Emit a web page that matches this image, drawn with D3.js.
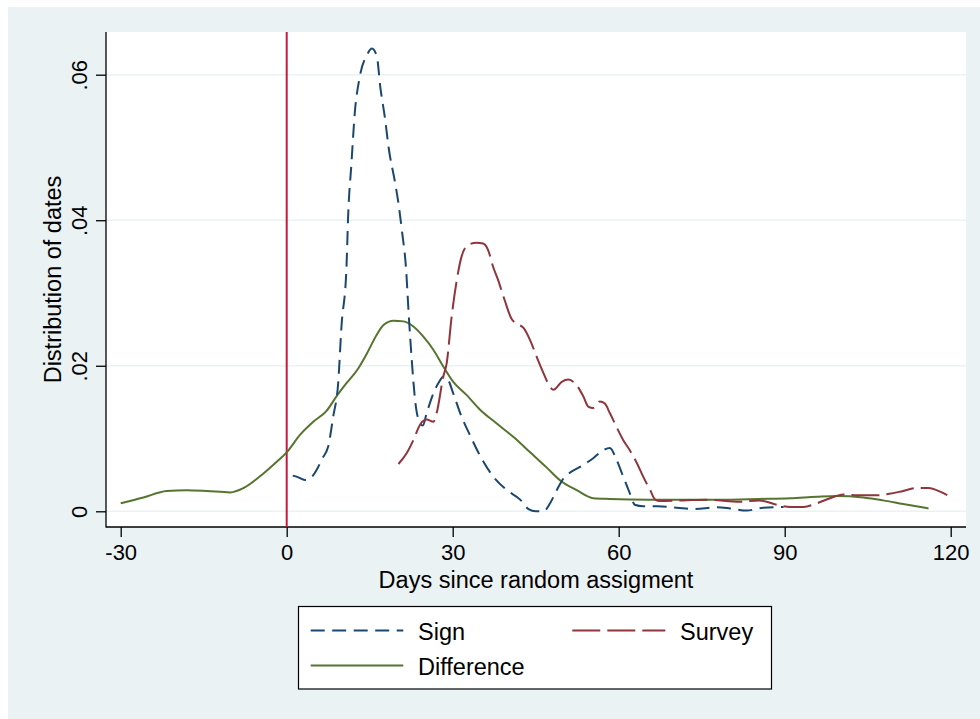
<!DOCTYPE html>
<html>
<head>
<meta charset="utf-8">
<script src="https://cdn.jsdelivr.net/npm/d3@7"></script>
<style>
  html, body { margin: 0; padding: 0; background: #ffffff; }
  svg { display: block; font-family: "Liberation Sans", Arial, Helvetica, sans-serif; }
</style>
</head>
<body>
<svg id="chart" width="980" height="719"></svg>
<script>
// ---- data ----
const signDays = [1.1, 2.0, 3.3, 4.5, 5.5, 6.3, 7.5, 8.4, 9.3, 9.9, 10.8, 11.1, 11.7, 12.3, 13.2, 14.5, 15.4, 16.3, 16.9, 17.8, 18.4, 19.6, 20.2, 20.8, 21.6, 22.0, 22.6, 23.2, 24.1, 24.6, 25.3, 26.5, 27.4, 28.3, 29.2, 30.1, 31.6, 33.1, 34.9, 37.3, 39.8, 42.2, 43.7, 45.0, 46.4, 47.6, 48.8, 50.0, 51.0, 53.0, 55.4, 57.2, 58.4, 59.6, 60.8, 62.0, 62.9, 64.4, 67.0, 70.5, 73.5, 77.7, 80.1, 83.1, 86.1, 89.8];
const signValues = [0.0049, 0.0047, 0.0043, 0.0047, 0.0058, 0.0071, 0.0089, 0.0130, 0.0176, 0.0254, 0.0335, 0.0405, 0.0478, 0.0547, 0.0597, 0.0627, 0.0636, 0.0625, 0.0584, 0.0538, 0.0501, 0.0451, 0.0423, 0.0387, 0.0330, 0.0277, 0.0208, 0.0153, 0.0121, 0.0118, 0.0135, 0.0162, 0.0176, 0.0185, 0.0180, 0.0162, 0.0130, 0.0105, 0.0077, 0.0048, 0.0029, 0.0016, 0.0003, 0.0000, 0.0000, 0.0011, 0.0029, 0.0045, 0.0052, 0.0061, 0.0073, 0.0084, 0.0087, 0.0071, 0.0048, 0.0025, 0.0009, 0.0007, 0.0007, 0.0005, 0.0003, 0.00055, 0.0004, 0.0001, 0.0005, 0.0006];

const surveyDays = [20.2, 21.7, 22.9, 24.1, 25.3, 26.5, 27.1, 28.3, 28.9, 29.8, 30.7, 31.6, 32.8, 34.3, 35.5, 36.4, 37.3, 38.2, 39.4, 40.6, 41.5, 42.8, 44.0, 45.2, 46.4, 47.6, 48.2, 49.7, 50.9, 52.1, 53.6, 54.5, 55.4, 56.6, 57.5, 58.4, 59.6, 60.8, 62.0, 63.3, 64.4, 65.7, 66.6, 67.5, 71.7, 76.0, 81.9, 85.4, 88.6, 91.0, 93.4, 95.8, 98.2, 100.6, 103.0, 106.6, 108.9, 111.4, 113.8, 116.0, 118.1, 119.9];
const surveyValues = [0.0065, 0.0080, 0.0098, 0.0119, 0.0126, 0.0123, 0.0135, 0.0185, 0.0203, 0.0267, 0.0316, 0.0350, 0.0366, 0.0369, 0.0368, 0.0359, 0.0336, 0.0318, 0.0290, 0.0265, 0.0258, 0.0252, 0.0235, 0.0212, 0.0190, 0.0171, 0.0167, 0.0178, 0.0181, 0.0176, 0.0158, 0.0144, 0.0142, 0.0151, 0.0148, 0.0135, 0.0116, 0.0098, 0.0084, 0.0066, 0.0048, 0.0029, 0.0016, 0.0014, 0.0015, 0.0016, 0.0013, 0.0015, 0.0009, 0.0006, 0.0006, 0.0011, 0.0018, 0.0023, 0.0022, 0.0022, 0.0024, 0.0028, 0.0032, 0.0032, 0.0027, 0.0020];

const diffDays = [-30, -25.9, -21.7, -18.1, -14.5, -10.2, -7.8, -4.2, -1.8, 0, 2.4, 4.8, 7.2, 9.0, 10.8, 12.9, 14.5, 16.3, 17.5, 19.3, 21.1, 22.9, 24.7, 26.5, 28.3, 30.1, 32.5, 34.9, 37.9, 41.0, 44.0, 47.0, 49.5, 52.4, 55.4, 58.4, 65.7, 77.7, 85.4, 91.0, 95.8, 99.5, 104.2, 107.8, 111.4, 116.0];
const diffValues = [0.0011, 0.0019, 0.0028, 0.0029, 0.0028, 0.0026, 0.0032, 0.0052, 0.0068, 0.0081, 0.0105, 0.0123, 0.0138, 0.0158, 0.0176, 0.0196, 0.0217, 0.0243, 0.0256, 0.0262, 0.0261, 0.0254, 0.0240, 0.0222, 0.0199, 0.0178, 0.0160, 0.0140, 0.0121, 0.0102, 0.0081, 0.0060, 0.0042, 0.0029, 0.0018, 0.0017, 0.0016, 0.0016, 0.0017, 0.0018, 0.0020, 0.0021, 0.0019, 0.0015, 0.0010, 0.0004];

const xTicks = [-30, 0, 30, 60, 90, 120];
const xTickLabels = ["-30", "0", "30", "60", "90", "120"];
const yTicks = [0, 0.02, 0.04, 0.06];
const yTickLabels = ["0", ".02", ".04", ".06"];
const seriesNames = ["Sign", "Survey", "Difference"];
const xTitle = "Days since random assigment";
const yTitle = "Distribution of dates";

// ---- layout ----
const svg = d3.select("#chart");
const plot = { left: 106, right: 966, top: 32, bottom: 527 };
const bg = "#eaf2f3";
const colors = { Sign: "#1a476f", Survey: "#90353b", Difference: "#55752f" };
const dashes = { Sign: "14,7.5", Survey: "28,7", Difference: null };
const font = "'Liberation Sans', Arial, Helvetica, sans-serif";

svg.append("rect").attr("x", 8).attr("y", 7).attr("width", 972).attr("height", 712).attr("fill", bg);
svg.append("rect").attr("x", plot.left).attr("y", plot.top)
  .attr("width", plot.right - plot.left).attr("height", plot.bottom - plot.top).attr("fill", "#ffffff");

const x = d3.scaleLinear().domain([-30, 120]).range([120.7, 950.7]);
const y = d3.scaleLinear().domain([0, 0.06]).range([511.3, 74.7]);

// gridlines
svg.append("g").selectAll("line").data(yTicks).join("line")
  .attr("x1", plot.left).attr("x2", plot.right)
  .attr("y1", d => y(d)).attr("y2", d => y(d))
  .attr("stroke", bg).attr("stroke-width", 1.6);

// y axis
const yAxis = d3.axisLeft(y).tickValues(yTicks).tickSize(10).tickSizeOuter(0)
  .tickFormat((d, i) => yTickLabels[i]);
const gy = svg.append("g").attr("transform", `translate(${plot.left},0)`).call(yAxis);
gy.select(".domain").remove();
gy.selectAll(".tick line").attr("stroke", "#000").attr("stroke-width", 1.3);
gy.selectAll(".tick text")
  .attr("transform", "rotate(-90)")
  .attr("x", 0).attr("y", -19).attr("dy", 0)
  .attr("text-anchor", "middle")
  .attr("font-family", font).attr("font-size", 22).attr("fill", "#000");

// x axis
const xAxis = d3.axisBottom(x).tickValues(xTicks).tickSize(10).tickSizeOuter(0)
  .tickFormat((d, i) => xTickLabels[i]);
const gx = svg.append("g").attr("transform", `translate(0,${plot.bottom})`).call(xAxis);
gx.select(".domain").remove();
gx.selectAll(".tick line").attr("stroke", "#000").attr("stroke-width", 1.3);
gx.selectAll(".tick text").attr("y", 33).attr("dy", 0)
  .attr("font-family", font).attr("font-size", 22).attr("fill", "#000");

// axis lines
svg.append("line").attr("x1", plot.left).attr("x2", plot.left).attr("y1", plot.top).attr("y2", plot.bottom + 0.6)
  .attr("stroke", "#000").attr("stroke-width", 1.3);
svg.append("line").attr("x1", plot.left).attr("x2", plot.right).attr("y1", plot.bottom).attr("y2", plot.bottom)
  .attr("stroke", "#000").attr("stroke-width", 1.3);

// vertical reference line at 0
svg.append("line").attr("x1", x(0)).attr("x2", x(0)).attr("y1", plot.top).attr("y2", plot.bottom)
  .attr("stroke", "#c8173f").attr("stroke-width", 2);

// series
const line = d3.line().x(d => x(d[0])).y(d => y(d[1])).curve(d3.curveMonotoneX);
const series = [
  { name: "Sign", pts: d3.zip(signDays, signValues) },
  { name: "Survey", pts: d3.zip(surveyDays, surveyValues) },
  { name: "Difference", pts: d3.zip(diffDays, diffValues) }
];
const order = ["Difference", "Sign", "Survey"];
order.forEach(n => {
  const s = series.find(t => t.name === n);
  svg.append("path").datum(s.pts)
    .attr("d", line)
    .attr("fill", "none")
    .attr("stroke", colors[n])
    .attr("stroke-width", 2)
    .attr("stroke-dasharray", dashes[n])
    .attr("stroke-linejoin", "round");
});

// axis titles
svg.append("text").attr("x", (plot.left + plot.right) / 2).attr("y", 588)
  .attr("text-anchor", "middle").attr("font-family", font).attr("font-size", 23.5).attr("fill", "#000")
  .text(xTitle);
svg.append("text").attr("transform", `translate(60.5,${(plot.top + plot.bottom) / 2}) rotate(-90)`)
  .attr("text-anchor", "middle").attr("font-family", font).attr("font-size", 23.5).attr("fill", "#000")
  .text(yTitle);

// legend
const lg = svg.append("g");
lg.append("rect").attr("x", 298.5).attr("y", 606.5).attr("width", 473).attr("height", 82.5)
  .attr("fill", "#ffffff").attr("stroke", "#000").attr("stroke-width", 1.2);
const legendItems = [
  { name: "Sign", x1: 310.7, x2: 403.3, ly: 630.5, tx: 418, ty: 640 },
  { name: "Survey", x1: 572.3, x2: 665.3, ly: 630.5, tx: 680, ty: 640 },
  { name: "Difference", x1: 310.7, x2: 403.3, ly: 665.5, tx: 418, ty: 675 }
];
legendItems.forEach(it => {
  lg.append("line").attr("x1", it.x1).attr("x2", it.x2).attr("y1", it.ly).attr("y2", it.ly)
    .attr("stroke", colors[it.name]).attr("stroke-width", 2).attr("stroke-dasharray", dashes[it.name]);
  lg.append("text").attr("x", it.tx).attr("y", it.ty)
    .attr("font-family", font).attr("font-size", 23.5).attr("fill", "#000").text(it.name);
});
</script>
</body>
</html>
